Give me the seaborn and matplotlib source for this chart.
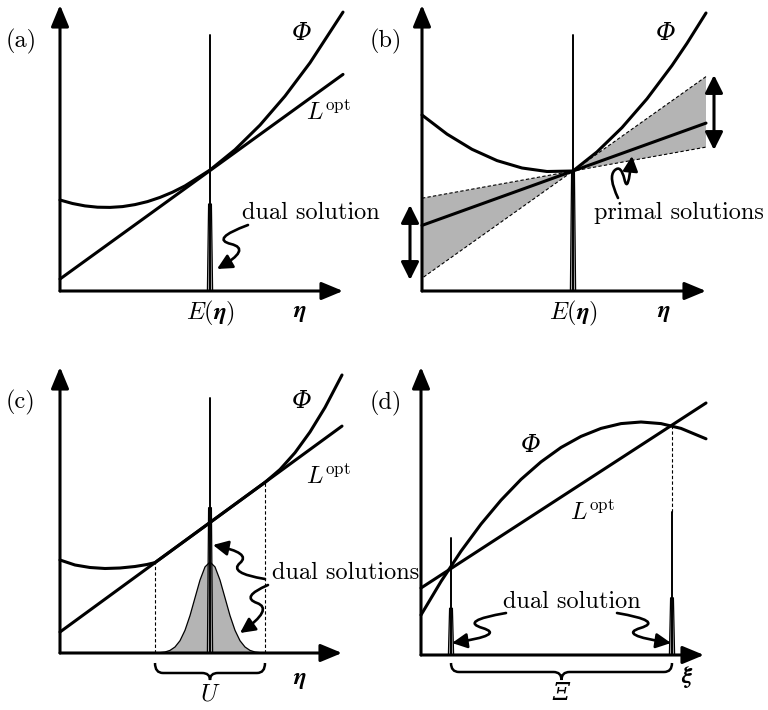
import matplotlib
matplotlib.use("Agg")
import matplotlib.pyplot as plt
import seaborn as sns
import pandas as pd
from matplotlib.path import Path
from matplotlib.patches import FancyArrowPatch, PathPatch

# ---------------- data (panel coordinates, origin at the axes corner) -------------
# (a)
a_phi_u = [0, 12.5, 25, 37.5, 50, 62.5, 75, 87.5, 100, 112.5, 125, 150, 175, 200, 225, 250, 283]
a_phi_v = [91, 87.5, 85.1, 83.8, 83.6, 84.4, 86.4, 89.4, 93.6, 98.8, 105.1, 121.0, 141.3,
           165.9, 194.9, 228.2, 278.9]
a_L_u = [0, 283]
a_L_v = [12, 216.6]
a_mean = 150
a_spike_top = 256

# (b)
b_phi_u = [0, 25, 50, 75, 100, 125, 151, 175, 200, 225, 250, 265, 284]
b_phi_v = [176, 156.9, 141.7, 130.4, 123.0, 119.5, 120, 139.1, 163.4, 192.2, 225.5, 247.7, 278]
b_L_u = [0, 284]
b_L_v = [65.6, 167.9]
b_wedge_left_u = [151, 0, 0]
b_wedge_left_v = [120, 92.8, 12.8]
b_wedge_right_u = [151, 284, 284]
b_wedge_right_v = [120, 214.4, 143.9]
b_mean = 151
b_spike_top = 256

# (c)
c_phi_u = [0, 15, 30, 45, 60, 75, 87, 95, 150, 205, 220, 235, 250, 265, 282]
c_phi_v = [93, 88, 85.5, 84.5, 85, 86.5, 88.5, 90.4, 130.5, 170.65, 183.5, 200.3, 221.0, 245.5, 278]
c_L_u = [0, 282]
c_L_v = [21, 226.9]
c_U = [95, 205]
c_U_top = [90.4, 170.65]
c_gauss_u = [100, 105, 110, 115, 120, 125, 130, 135, 140, 145, 150,
             155, 160, 165, 170, 175, 180, 185, 190, 195, 200]
c_gauss_v = [0.35, 1.0, 2.6, 6.0, 12.3, 22.7, 37.4, 55.2, 72.9, 86.1, 91,
             86.1, 72.9, 55.2, 37.4, 22.7, 12.3, 6.0, 2.6, 1.0, 0.35]
c_mean = 150
c_spike_top = 255

# (d)
d_phi_u = [0, 20, 40, 60, 80, 100, 120, 140, 160, 180, 200, 220, 240, 260, 285]
d_phi_v = [40, 73.5, 103.8, 130.9, 154.8, 175.6, 193.1, 207.5, 218.6, 226.6, 231.4, 233, 231.4, 226.6, 216.2]
d_L_u = [0, 285]
d_L_v = [67, 252]
d_support = [30, 251]
d_spike_top = [117, 143]
d_cross_v = [86.5, 230]

# ---------------- figure ----------------
sns.set_theme(style="white")
plt.rcParams['mathtext.fontset'] = 'cm'
plt.rcParams['font.family'] = ['cmr10', 'DejaVu Serif']
plt.rcParams['axes.unicode_minus'] = False

W, H = 768, 710
fig = plt.figure(figsize=(W / 100, H / 100), dpi=100)
fig.patch.set_facecolor('white')

LW = 2.2
GRAY = '#b4b4b4'
FS = 17.5


def panel(ox, oy):
    ax = fig.add_axes([ox / W, (H - oy) / H, 300 / W, 300 / H])
    ax.set_xlim(0, 300)
    ax.set_ylim(0, 300)
    ax.axis('off')
    ax.patch.set_alpha(0)
    return ax


def curve(ax, u, v, lw=LW, **kw):
    df = pd.DataFrame({'u': u, 'v': v})
    sns.lineplot(data=df, x='u', y='v', sort=False, estimator=None, ax=ax,
                 color='black', lw=lw, clip_on=False, legend=False, **kw)
    ax.set_xlabel('')
    ax.set_ylabel('')


def axes_arrows(ax, xtip, ytip):
    for tip in [(xtip, 0), (0, ytip)]:
        ax.annotate('', xy=tip, xytext=(0, 0), annotation_clip=False,
                    arrowprops=dict(arrowstyle='-|>,head_length=0.65,head_width=0.27',
                                    lw=LW, color='black', mutation_scale=20,
                                    shrinkA=0, shrinkB=0))


def spike(ax, u, top, frac=0.38):
    ax.plot([u, u], [0, top], color='black', lw=1.4, clip_on=False)
    h = top * frac
    ax.fill([u - 2.6, u - 1.4, u + 1.4, u + 2.6], [0, h, h, 0],
            facecolor=GRAY, edgecolor='black', lw=0.9, clip_on=False)


def squiggle(ax, pts, ms=15):
    verts = [pts[0]]
    codes = [Path.MOVETO]
    for i in range(1, len(pts) - 1):
        nxt = pts[i + 1] if i == len(pts) - 2 else (
            (pts[i][0] + pts[i + 1][0]) / 2, (pts[i][1] + pts[i + 1][1]) / 2)
        verts += [pts[i], nxt]
        codes += [Path.CURVE3, Path.CURVE3]
    arr = FancyArrowPatch(path=Path(verts, codes),
                          arrowstyle='-|>,head_length=0.6,head_width=0.3',
                          mutation_scale=ms, lw=1.9, color='black',
                          transform=ax.transData, clip_on=False)
    ax.add_patch(arr)


def brace(ax, u0, u1, v_end, v_line, v_tip, r=8):
    uc = (u0 + u1) / 2
    verts = [(u0, v_end), (u0, v_line), (u0 + r, v_line), (uc - r, v_line),
             (uc, v_line), (uc, v_tip), (uc, v_line), (uc + r, v_line),
             (u1 - r, v_line), (u1, v_line), (u1, v_end)]
    C3, L2 = Path.CURVE3, Path.LINETO
    codes = [Path.MOVETO, C3, C3, L2, C3, C3, C3, C3, L2, C3, C3]
    ax.add_patch(PathPatch(Path(verts, codes), fill=False, lw=1.8,
                           edgecolor='black', clip_on=False))


def dashed(ax, u, v0, v1):
    ax.plot([u, u], [v0, v1], color='black', lw=0.8, ls=(0, (3, 2)), clip_on=False)


def txt(ax, u, v, s, ha='center', fs=FS, **kw):
    ax.text(u, v, s, ha=ha, va='center', fontsize=fs, color='black',
            clip_on=False, **kw)


def greek(ax, u, v, s, fs=FS):
    ax.text(u, v, s, ha='center', va='center', fontsize=fs, color='black',
            family=['DejaVu Serif'], style='italic', clip_on=False)


LOPT = r'$L^{\mathrm{opt}}$'
ETA = r'$\boldsymbol{\eta}$'
EETA = r'$E(\boldsymbol{\eta})$'

# ---------------- (a) ----------------
ax = panel(60, 291)
spike(ax, a_mean, a_spike_top, 0.34)
curve(ax, a_L_u, a_L_v)
curve(ax, a_phi_u, a_phi_v)
axes_arrows(ax, 283, 286)
squiggle(ax, [(188, 66), (150, 52), (192, 42), (157, 22)])
txt(ax, -39, 250, '(a)')
greek(ax, 242, 258, 'Φ')
txt(ax, 268, 178, LOPT)
txt(ax, 182, 78, 'dual solution', ha='left')
txt(ax, 150, -22, EETA)
txt(ax, 240, -22, ETA)

# ---------------- (b) ----------------
ax = panel(422, 291)
for wu, wv in [(b_wedge_left_u, b_wedge_left_v), (b_wedge_right_u, b_wedge_right_v)]:
    ax.fill(wu, wv, facecolor=GRAY, edgecolor='none', clip_on=False)
    ax.plot([wu[1], wu[0], wu[2]], [wv[1], wv[0], wv[2]], color='black',
            lw=0.8, ls=(0, (3, 2)), clip_on=False)
spike(ax, b_mean, b_spike_top, 0.47)
curve(ax, b_L_u, b_L_v)
curve(ax, b_phi_u, b_phi_v)
axes_arrows(ax, 284, 286)
for uu, v0, v1 in [(-12, 86, 11), (292, 216, 141)]:
    ax.annotate('', xy=(uu, v1), xytext=(uu, v0), annotation_clip=False,
                arrowprops=dict(arrowstyle='<|-|>,head_length=0.6,head_width=0.3',
                                lw=LW, color='black', mutation_scale=18,
                                shrinkA=0, shrinkB=0))
squiggle(ax, [(196, 93), (186, 114), (199, 127), (206, 96), (210, 135)])
txt(ax, -36, 250, '(b)')
greek(ax, 244, 258, 'Φ')
txt(ax, 172, 78, 'primal solutions', ha='left')
txt(ax, 151, -22, EETA)
txt(ax, 242, -22, ETA)

# ---------------- (c) ----------------
ax = panel(60, 653)
ax.fill_between(c_gauss_u, 0, c_gauss_v, facecolor=GRAY, edgecolor='none', clip_on=False)
curve(ax, c_gauss_u, c_gauss_v, lw=0.9)
spike(ax, c_mean, c_spike_top, 0.57)
for uu, tv in zip(c_U, c_U_top):
    dashed(ax, uu, 0, tv)
curve(ax, c_L_u, c_L_v)
curve(ax, c_phi_u, c_phi_v)
axes_arrows(ax, 282, 286)
brace(ax, c_U[0], c_U[1], -10, -20, -27)
squiggle(ax, [(205, 74), (168, 80), (192, 100), (153, 108)])
squiggle(ax, [(208, 68), (180, 56), (214, 44), (180, 20)])
txt(ax, -39, 251, '(c)')
greek(ax, 242, 251, 'Φ')
txt(ax, 268, 176, LOPT)
txt(ax, 212, 80, 'dual solutions', ha='left')
txt(ax, 150, -41, r'$U$')
txt(ax, 240, -27, ETA)

# ---------------- (d) ----------------
ax = panel(421, 655)
dashed(ax, d_support[1], d_spike_top[1], d_cross_v[1])
for uu, tp in zip(d_support, d_spike_top):
    spike(ax, uu, tp, 0.4)
curve(ax, d_L_u, d_L_v)
curve(ax, d_phi_u, d_phi_v)
axes_arrows(ax, 283, 288)
brace(ax, d_support[0], d_support[1], -8, -17, -25)
squiggle(ax, [(85, 42), (38, 34), (85, 20), (31, 12)])
squiggle(ax, [(196, 42), (243, 34), (196, 20), (250, 12)])
txt(ax, -35, 252, '(d)')
greek(ax, 110, 210, 'Φ')
txt(ax, 171, 142, LOPT)
txt(ax, 151, 53, 'dual solution')
greek(ax, 140, -38, 'Ξ')
txt(ax, 266, -22, r'$\boldsymbol{\xi}$')

fig.savefig('out.png', dpi=100, facecolor='white')
